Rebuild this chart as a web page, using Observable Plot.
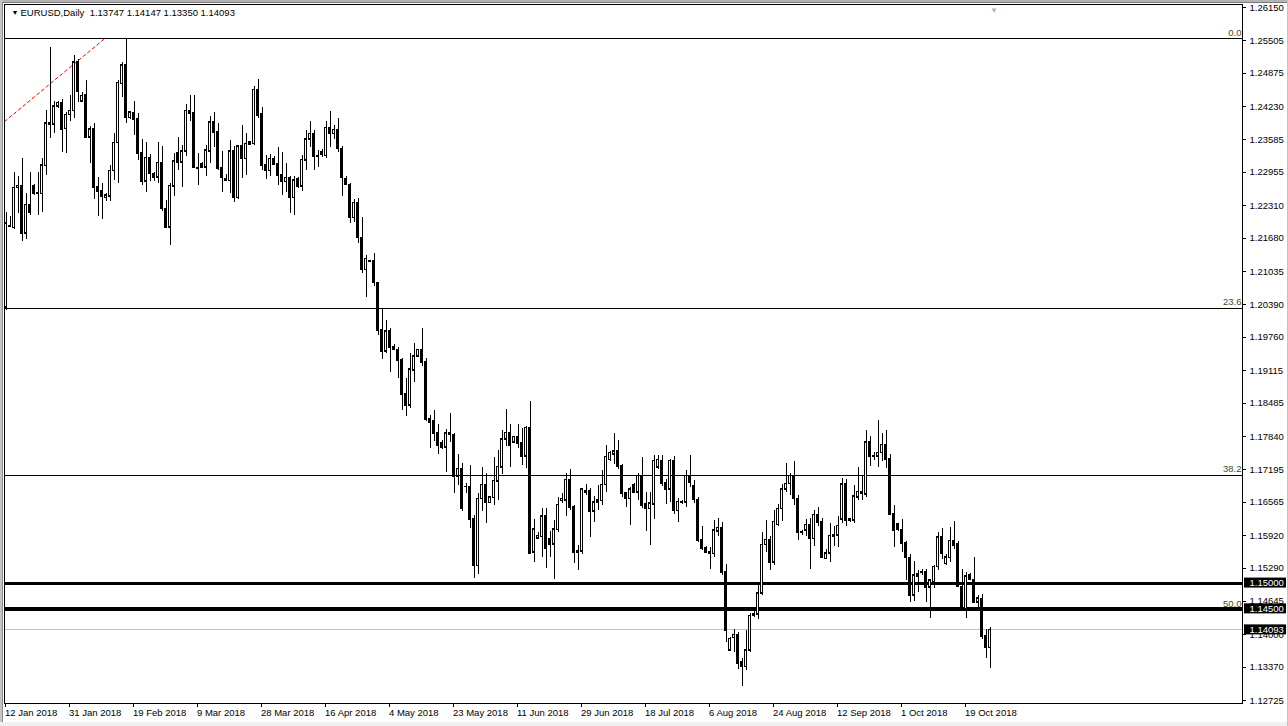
<!DOCTYPE html>
<html><head><meta charset="utf-8">
<script src="https://cdn.jsdelivr.net/npm/d3@7"></script>
<script src="https://cdn.jsdelivr.net/npm/@observablehq/plot@0.6"></script>
<style>
html,body{margin:0;padding:0;background:#fff;}
#chart{position:relative;width:1288px;height:726px;overflow:hidden;}
#chart svg{position:absolute;left:0;top:0;}
.edge{position:absolute;}
</style></head><body><div id="chart">
<div class="edge" style="left:0;top:0;width:1288px;height:2px;background:#b4b4b4;z-index:2"></div>
<div class="edge" style="left:0;top:2px;width:1288px;height:1px;background:#7a7a7a;z-index:2"></div>
<div class="edge" style="left:0;top:0;width:2px;height:726px;background:#c4c4c4;z-index:2"></div>
<div class="edge" style="left:2px;top:2px;width:1px;height:722px;background:#8a8a8a;z-index:2"></div>
<div class="edge" style="left:0;top:722px;width:1288px;height:4px;background:#f0f0f0;z-index:2"></div>
<div class="edge" style="left:1287px;top:0;width:1px;height:726px;background:#c4c4c4;z-index:2"></div>
</div>
<script>
// EURUSD daily bars, 12 Jan 2018 .. 26 Oct 2018 (broker includes Sunday bars)
const open = [
1.2034,1.2192,1.2188,1.2266,1.2270,1.2178,1.2233,1.2270,1.2254,1.2254,
1.2308,1.2391,1.2389,1.2424,1.2430,1.2380,1.2407,1.2415,1.2510,1.2433,
1.2446,1.2364,1.2379,1.2268,1.2260,1.2246,1.2249,1.2299,1.2353,1.2467,
1.2503,1.2401,1.2411,1.2399,1.2333,1.2278,1.2324,1.2293,1.2286,1.2314,
1.2225,1.2189,1.2269,1.2333,1.2315,1.2337,1.2415,1.2410,1.2304,1.2312,
1.2306,1.2337,1.2393,1.2374,1.2304,1.2283,1.2279,1.2337,1.2246,1.2346,
1.2322,1.2350,1.2351,1.2456,1.2408,1.2310,1.2299,1.2322,1.2312,1.2291,
1.2277,1.2285,1.2246,1.2283,1.2269,1.2319,1.2360,1.2370,1.2327,1.2335,
1.2328,1.2382,1.2370,1.2378,1.2341,1.2282,1.2272,1.2208,1.2237,1.2169,
1.2107,1.2124,1.2124,1.2081,1.1991,1.1949,1.1988,1.1958,1.1952,1.1932,
1.1866,1.1844,1.1912,1.1939,1.1952,1.1929,1.1818,1.1813,1.1790,1.1771,
1.1763,1.1790,1.1787,1.1707,1.1721,1.1687,1.1687,1.1624,1.1534,1.1663,
1.1690,1.1656,1.1665,1.1697,1.1724,1.1779,1.1791,1.1773,1.1783,1.1772,
1.1746,1.1801,1.1560,1.1587,1.1590,1.1629,1.1586,1.1575,1.1603,1.1659,
1.1660,1.1700,1.1648,1.1560,1.1562,1.1678,1.1678,1.1639,1.1657,1.1659,
1.1690,1.1739,1.1750,1.1755,1.1727,1.1674,1.1663,1.1690,1.1676,1.1708,
1.1653,1.1644,1.1653,1.1724,1.1737,1.1693,1.1682,1.1737,1.1640,1.1656,
1.1657,1.1708,1.1689,1.1661,1.1584,1.1568,1.1561,1.1557,1.1600,1.1607,
1.1521,1.1370,1.1394,1.1400,1.1347,1.1338,1.1370,1.1437,1.1440,1.1480,
1.1574,1.1584,1.1540,1.1613,1.1644,1.1682,1.1692,1.1707,1.1663,1.1597,
1.1602,1.1613,1.1586,1.1632,1.1619,1.1547,1.1558,1.1594,1.1593,1.1624,
1.1691,1.1621,1.1622,1.1666,1.1677,1.1672,1.1774,1.1745,1.1746,1.1752,
1.1768,1.1740,1.1634,1.1615,1.1603,1.1577,1.1549,1.1476,1.1513,1.1521,
1.1522,1.1492,1.1502,1.1532,1.1589,1.1537,1.1549,1.1582,1.1575,1.1493,
1.1450,1.1515,1.1506,1.1463,1.1469,1.1398,1.13747];
const high = [
1.2217,1.2210,1.2295,1.2288,1.2322,1.2254,1.2295,1.2272,1.2295,1.2322,
1.2415,1.2538,1.2433,1.2432,1.2436,1.2412,1.2445,1.2522,1.2515,1.2450,
1.2474,1.2385,1.2390,1.2286,1.2275,1.2255,1.2308,1.2370,1.2474,1.2509,
1.2554,1.2412,1.2433,1.2409,1.2359,1.2354,1.2330,1.2296,1.2354,1.2346,
1.2241,1.2275,1.2333,1.2364,1.2348,1.2427,1.2444,1.2444,1.2333,1.2314,
1.2348,1.2404,1.2412,1.2390,1.2337,1.2291,1.2357,1.2346,1.2348,1.2386,
1.2370,1.2355,1.2461,1.2475,1.2422,1.2328,1.2330,1.2326,1.2343,1.2335,
1.2312,1.2288,1.2288,1.2285,1.2328,1.2377,1.2394,1.2377,1.2338,1.2339,
1.2395,1.2413,1.2386,1.2399,1.2345,1.2288,1.2275,1.2243,1.2245,1.2209,
1.2134,1.2125,1.2139,1.2083,1.2031,1.2009,1.1994,1.1963,1.1957,1.1935,
1.1896,1.1944,1.1965,1.1952,1.1994,1.1935,1.1824,1.1835,1.1808,1.1776,
1.1797,1.1828,1.1790,1.1749,1.1731,1.1692,1.1728,1.1630,1.1674,1.1723,
1.1713,1.1667,1.1744,1.1757,1.1795,1.1837,1.1808,1.1784,1.1808,1.1799,
1.1803,1.1852,1.1624,1.1598,1.1644,1.1644,1.1599,1.1621,1.1666,1.1673,
1.1712,1.1720,1.1651,1.1572,1.1684,1.1691,1.1684,1.1667,1.1689,1.1719,
1.1766,1.1754,1.1790,1.1776,1.1730,1.1676,1.1685,1.1692,1.1712,1.1743,
1.1676,1.1676,1.1747,1.1747,1.1747,1.1700,1.1740,1.1745,1.1663,1.1660,
1.1718,1.1747,1.1699,1.1665,1.1610,1.1571,1.1569,1.1621,1.1626,1.1618,
1.1536,1.1395,1.1411,1.1405,1.1353,1.1408,1.1442,1.1445,1.1500,1.1598,
1.1621,1.1590,1.1640,1.1653,1.1690,1.1731,1.1712,1.1735,1.1670,1.1602,
1.1624,1.1625,1.1640,1.1647,1.1625,1.1565,1.1616,1.1610,1.1628,1.1702,
1.1700,1.1625,1.1689,1.1724,1.1708,1.1796,1.1783,1.1753,1.1815,1.1790,
1.1795,1.1750,1.1650,1.1616,1.1623,1.1580,1.1555,1.1542,1.1524,1.1527,
1.1527,1.1505,1.1535,1.1597,1.1605,1.1555,1.1607,1.1619,1.1580,1.1526,
1.1520,1.1518,1.1550,1.1475,1.1477,1.1410,1.14147];
const low = [
1.2028,1.2189,1.2185,1.2215,1.2162,1.2165,1.2212,1.2250,1.2212,1.2218,
1.2289,1.2362,1.2370,1.2420,1.2335,1.2333,1.2395,1.2400,1.2430,1.2430,
1.2362,1.2312,1.2244,1.2210,1.2204,1.2240,1.2240,1.2280,1.2275,1.2440,
1.2390,1.2398,1.2367,1.2319,1.2270,1.2257,1.2278,1.2278,1.2275,1.2220,
1.2186,1.2153,1.2249,1.2300,1.2267,1.2327,1.2395,1.2305,1.2270,1.2303,
1.2288,1.2312,1.2344,1.2299,1.2257,1.2278,1.2254,1.2238,1.2244,1.2283,
1.2290,1.2349,1.2348,1.2400,1.2299,1.2282,1.2287,1.2308,1.2270,1.2251,
1.2257,1.2215,1.2212,1.2264,1.2259,1.2299,1.2343,1.2299,1.2306,1.2324,
1.2323,1.2343,1.2360,1.2335,1.2248,1.2272,1.2196,1.2198,1.2158,1.2100,
1.2054,1.2121,1.2075,1.1979,1.1934,1.1944,1.1908,1.1950,1.1896,1.1835,
1.1822,1.1838,1.1889,1.1937,1.1920,1.1813,1.1761,1.1775,1.1749,1.1758,
1.1715,1.1773,1.1674,1.1689,1.1638,1.1674,1.1605,1.1508,1.1516,1.1639,
1.1615,1.1655,1.1650,1.1660,1.1710,1.1765,1.1724,1.1770,1.1760,1.1728,
1.1721,1.1556,1.1540,1.1585,1.1550,1.1529,1.1550,1.1506,1.1598,1.1655,
1.1628,1.1640,1.1538,1.1525,1.1555,1.1670,1.1589,1.1618,1.1640,1.1650,
1.1676,1.1735,1.1730,1.1720,1.1666,1.1647,1.1611,1.1675,1.1660,1.1645,
1.1600,1.1573,1.1624,1.1720,1.1688,1.1652,1.1657,1.1633,1.1618,1.1652,
1.1647,1.1685,1.1655,1.1579,1.1563,1.1558,1.1527,1.1550,1.1590,1.1515,
1.1385,1.1368,1.1365,1.1332,1.1299,1.1330,1.1365,1.1433,1.1430,1.1475,
1.1560,1.1524,1.1535,1.1610,1.1620,1.1675,1.1670,1.1650,1.1582,1.1592,
1.1590,1.1527,1.1570,1.1610,1.1547,1.1545,1.1540,1.1570,1.1569,1.1615,
1.1610,1.1618,1.1615,1.1660,1.1660,1.1665,1.1725,1.1737,1.1724,1.1735,
1.1722,1.1630,1.1569,1.1600,1.1560,1.1505,1.1463,1.1465,1.1482,1.1515,
1.1463,1.1431,1.1490,1.1525,1.1545,1.1535,1.1540,1.1565,1.1492,1.1450,
1.1431,1.1506,1.1460,1.1453,1.1390,1.1354,1.13350];
const close = [
1.2197,1.2190,1.2266,1.2270,1.2178,1.2233,1.2218,1.2254,1.2255,1.2309,
1.2391,1.2389,1.2424,1.2430,1.2379,1.2407,1.2415,1.2509,1.2453,1.2444,
1.2364,1.2379,1.2267,1.2259,1.2249,1.2251,1.2299,1.2353,1.2469,1.2503,
1.2402,1.2412,1.2398,1.2333,1.2278,1.2324,1.2293,1.2286,1.2314,1.2225,
1.2189,1.2270,1.2317,1.2315,1.2337,1.2415,1.2410,1.2306,1.2305,1.2306,
1.2338,1.2393,1.2373,1.2304,1.2286,1.2279,1.2337,1.2246,1.2346,1.2322,
1.2351,1.2354,1.2456,1.2406,1.2309,1.2299,1.2322,1.2311,1.2290,1.2277,
1.2285,1.2246,1.2280,1.2269,1.2320,1.2360,1.2370,1.2327,1.2328,1.2330,
1.2382,1.2370,1.2378,1.2341,1.2285,1.2272,1.2208,1.2237,1.2169,1.2107,
1.2128,1.2123,1.2082,1.1989,1.1949,1.1988,1.1957,1.1952,1.1932,1.1865,
1.1844,1.1914,1.1939,1.1952,1.1928,1.1817,1.1811,1.1789,1.1766,1.1763,
1.1790,1.1787,1.1707,1.1721,1.1644,1.1687,1.1624,1.1534,1.1663,1.1690,
1.1656,1.1666,1.1698,1.1725,1.1779,1.1791,1.1766,1.1783,1.1770,1.1746,
1.1801,1.1558,1.1604,1.1592,1.1629,1.1566,1.1575,1.1604,1.1652,1.1663,
1.1700,1.1647,1.1560,1.1563,1.1682,1.1675,1.1639,1.1657,1.1660,1.1690,
1.1745,1.1752,1.1755,1.1726,1.1673,1.1663,1.1682,1.1676,1.1708,1.1650,
1.1644,1.1655,1.1737,1.1739,1.1692,1.1682,1.1737,1.1640,1.1658,1.1657,
1.1708,1.1695,1.1661,1.1582,1.1566,1.1560,1.1557,1.1602,1.1607,1.1521,
1.1409,1.1392,1.1400,1.1345,1.1338,1.1370,1.1437,1.1440,1.1480,1.1574,
1.1584,1.1540,1.1619,1.1644,1.1682,1.1692,1.1708,1.1663,1.1598,1.1598,
1.1613,1.1586,1.1632,1.1618,1.1550,1.1558,1.1592,1.1590,1.1611,1.1691,
1.1621,1.1624,1.1668,1.1677,1.1673,1.1773,1.1746,1.1747,1.1752,1.1768,
1.1740,1.1633,1.1602,1.1603,1.1576,1.1549,1.1476,1.1515,1.1517,1.1522,
1.1492,1.1505,1.1532,1.1589,1.1557,1.1550,1.1582,1.1573,1.1493,1.1450,
1.1513,1.1506,1.1463,1.1471,1.1396,1.1375,1.14093];

// axis ticks
const priceTicks = [1.26150,1.25505,1.24875,1.24230,1.23585,1.22955,1.22310,1.21680,1.21035,1.20390,
  1.19760,1.19115,1.18485,1.17840,1.17195,1.16565,1.15920,1.15290,1.14645,1.14000,1.13370,1.12725];
const dateTickBars = [0,16,32,48,64,80,96,112,128,144,160,176,192,208,224,240];
const dateLabels = ["12 Jan 2018","31 Jan 2018","19 Feb 2018","9 Mar 2018","28 Mar 2018","16 Apr 2018",
  "4 May 2018","23 May 2018","11 Jun 2018","29 Jun 2018","18 Jul 2018","6 Aug 2018","24 Aug 2018",
  "12 Sep 2018","1 Oct 2018","19 Oct 2018"];

// fibonacci retracement (swing high -> swing low) and levels
const fibHigh = 1.25550, fibLow = 1.03400;
const fibRatios = [0.0, 23.6, 38.2, 50.0];
// horizontal support lines
const supportLevels = [1.15000, 1.14500];
// red dashed trend line
const trendBars = [-0.375, 24.4];
const trendPrices = [1.2394, 1.2553];
const header = "EURUSD,Daily\u00a0 1.13747 1.14147 1.13350 1.14093";

// scale extents (visible window of the MT4 chart)
const xDomain = [-0.375, 309.125];
const yDomain = [1.12667, 1.26208];

const bars = open.map((o, i) => ({i, o, h: high[i], l: low[i], c: close[i]}));
const upBars = bars.filter(d => d.c >= d.o);
const downBars = bars.filter(d => d.c < d.o);
const fibs = fibRatios.map(r => ({r, p: fibHigh - (fibHigh - fibLow) * r / 100}));
const lastPrice = close[close.length - 1];
const markerPrices = [...supportLevels, lastPrice];
const trend = trendBars.map((b, k) => ({b, p: trendPrices[k]}));
const shiftBar = open.length;

const chart = Plot.plot({
  width: 1288, height: 726,
  marginLeft: 4, marginRight: 46, marginTop: 4, marginBottom: 23,
  style: {fontFamily: "'Liberation Sans', Arial, sans-serif", fontSize: "9.5px", background: "white", color: "black", overflow: "visible"},
  x: {type: "linear", domain: xDomain, axis: null},
  y: {type: "linear", domain: yDomain, axis: null},
  marks: [
    Plot.ruleY(fibs, {y: "p", stroke: "black", strokeWidth: 1, shapeRendering: "crispEdges"}),
    Plot.ruleY([lastPrice], {stroke: "#c0c0c0", strokeWidth: 1, shapeRendering: "crispEdges"}),
    Plot.ruleY(supportLevels, {stroke: "black", strokeWidth: 3, shapeRendering: "crispEdges"}),
    Plot.line(trend, {x: "b", y: "p", stroke: "#ff0000", strokeWidth: 1, strokeDasharray: "3,3"}),
    Plot.ruleX(bars, {x: "i", y1: "l", y2: "h", stroke: "black", strokeWidth: 1, shapeRendering: "crispEdges"}),
    Plot.rect(upBars, {x1: d => d.i - 0.25, x2: d => d.i + 0.25, y1: "o", y2: "c", fill: "white", stroke: "black", strokeWidth: 1, shapeRendering: "crispEdges"}),
    Plot.rect(downBars, {x1: d => d.i - 0.25, x2: d => d.i + 0.25, y1: "o", y2: "c", fill: "black", stroke: "black", strokeWidth: 1, shapeRendering: "crispEdges"}),
    Plot.ruleY(bars, {y: "o", x1: d => d.i - 0.375, x2: d => d.i + 0.375, stroke: "black", strokeWidth: 1, shapeRendering: "crispEdges"}),
    Plot.ruleY(bars, {y: "c", x1: d => d.i - 0.375, x2: d => d.i + 0.375, stroke: "black", strokeWidth: 1, shapeRendering: "crispEdges"}),
    Plot.frame({stroke: "black", shapeRendering: "crispEdges"}),
    Plot.axisY(priceTicks, {anchor: "right", tickSize: 3, tickPadding: 4, tickFormat: d => d.toFixed(5), label: null, shapeRendering: "crispEdges"}),
    Plot.axisX(dateTickBars, {anchor: "bottom", tickSize: 4, tickPadding: 2, tickFormat: d => dateLabels[dateTickBars.indexOf(d)], textAnchor: "start", dx: -1, label: null, shapeRendering: "crispEdges"}),
    Plot.text(fibs, {y: "p", text: d => d.r.toFixed(1), frameAnchor: "right", textAnchor: "end", dx: -1, dy: -6, fill: "#4a4a1c"}),
    Plot.rect(markerPrices, {x1: xDomain[1], x2: xDomain[1], y1: d => d, y2: d => d, insetLeft: 2, insetRight: -44, insetTop: -5, insetBottom: -5, fill: "black"}),
    Plot.text(markerPrices, {y: d => d, text: d => d.toFixed(5), frameAnchor: "right", textAnchor: "start", dx: 7, fill: "white"}),
    Plot.text([shiftBar], {x: d => d, frameAnchor: "top", dy: 3, text: () => "\u25BC", fill: "#b4b4b4", fontSize: 8}),
    Plot.text(["\u25BC"], {frameAnchor: "top-left", dx: 7, dy: 8, lineAnchor: "middle", fontSize: 7, fill: "black"}),
    Plot.text([header], {frameAnchor: "top-left", dx: 16, dy: 8, lineAnchor: "middle", textAnchor: "start", fill: "black"})
  ]
});
document.getElementById("chart").appendChild(chart);
</script>
</body></html>
